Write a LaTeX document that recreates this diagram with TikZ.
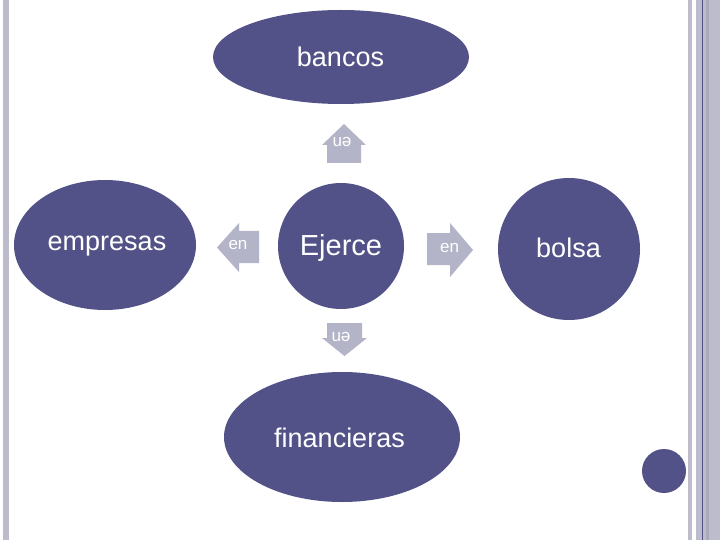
\documentclass[tikz,border=0pt]{standalone}
\usepackage{fontspec}
\setmainfont{Liberation Sans}
\usetikzlibrary{positioning}

\definecolor{slide}{HTML}{525288}
\definecolor{arrowgray}{HTML}{B4B4C8}
\definecolor{bargray}{HTML}{BCBCCC}
\definecolor{bardark}{HTML}{AAAABC}

\tikzset{
    blob/.style={fill=slide, draw=none},
    word/.style={text=white, anchor=base, inner sep=0pt, font=\fontsize{27}{30}\selectfont},
    tag/.style={text=white, inner sep=0pt, font=\fontsize{17}{19}\selectfont},
    blockarrow/.style={fill=arrowgray, draw=none}
}

\begin{document}
\begin{tikzpicture}[x=1pt, y=-1pt]

    \useasboundingbox (0,0) rectangle (720,540);
    \fill[white] (0,0) rectangle (720,540);

    % borders
    \fill[bargray] (3,0) rectangle (9,540);
    \fill[bargray] (688,0) rectangle (692,540);
    \fill[bargray] (696,0) rectangle (720,540);
    \fill[bardark] (706,0) rectangle (709,540);
    \fill[slide] (702,0) rectangle (703,540);

    % ellipses
    \fill[blob] (341,57) ellipse (128 and 47);
    \fill[blob] (341,246) circle (63);
    \fill[blob] (105,245) ellipse (91 and 65);
    \fill[blob] (569,249) circle (71);
    \fill[blob] (342,437) ellipse (118 and 65);
    \fill[blob] (664,471) circle (22);

    \node[word] (bancos) at (340.5,67) {bancos};
    \node[word, font=\fontsize{29}{32}\selectfont] (ejerce) at (341,255) {Ejerce};
    \node[word] (empresas) at (107,250) {empresas};
    \node[word] (bolsa) at (568.5,257) {bolsa};
    \node[word] (financieras) at (339.5,447) {financieras};

    % arrows
    \fill[blockarrow] (327,163) -- (327,145) -- (322,145) -- (344,124)
        -- (366,145) -- (361,145) -- (361,163) -- cycle;
    \fill[blockarrow] (327,323) -- (327,338) -- (322,338) -- (344.5,356)
        -- (367,338) -- (362,338) -- (362,323) -- cycle;
    \fill[blockarrow] (259,231) -- (239,231) -- (239,223) -- (217,247.5)
        -- (239,272) -- (239,263) -- (259,263) -- cycle;
    \fill[blockarrow] (427,233) -- (450,233) -- (450,223) -- (473,250)
        -- (450,277) -- (450,265) -- (427,265) -- cycle;

    \node[tag, rotate=180] (enup) at (342,142) {en};
    \node[tag, rotate=180] (endown) at (341,337) {en};
    \node[tag] (enleft) at (238,245) {en};
    \node[tag] (enright) at (449.5,248) {en};

\end{tikzpicture}
\end{document}
